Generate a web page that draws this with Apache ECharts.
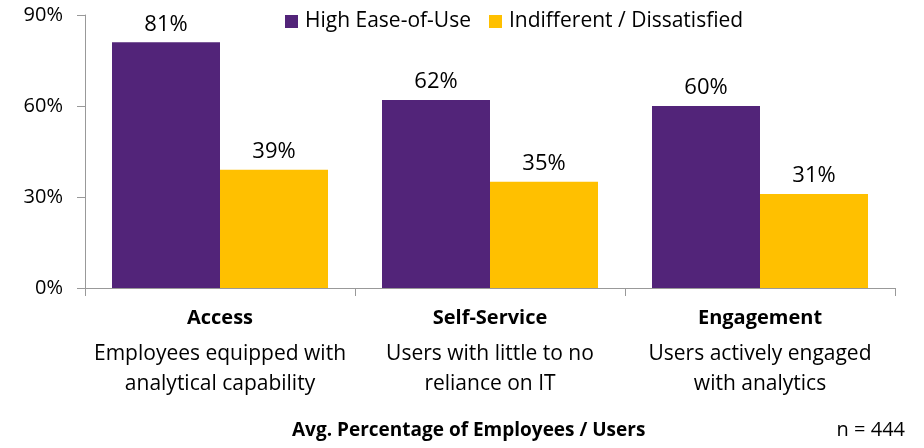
<!DOCTYPE html>
<html><head><meta charset="utf-8">
<script src="https://cdn.jsdelivr.net/npm/echarts@6/dist/echarts.min.js"></script>
<style>html,body{margin:0;padding:0;background:#fff}#c{width:924px;height:448px}</style>
</head><body><div id="c"></div>
<script>
var categories = ['Access', 'Self-Service', 'Engagement'];
var descriptions = ['Employees equipped with\nanalytical capability', 'Users with little to no\nreliance on IT', 'Users actively engaged\nwith analytics'];
var highEase = [81, 62, 60];
var indifferent = [39, 35, 31];
var seriesNames = ['High Ease-of-Use', 'Indifferent / Dissatisfied'];
var yTicks = [0, 30, 60, 90];

var font = 'Open Sans';
var chart = echarts.init(document.getElementById('c'));
chart.setOption({
  animation: false,
  textStyle: { fontFamily: font },
  legend: {
    top: 6, left: 280, itemWidth: 13, itemHeight: 13, itemGap: 18,
    textStyle: { fontSize: 21, color: '#000', fontFamily: font, padding: [0, 0, 0, 2] },
    icon: 'rect',
    data: seriesNames
  },
  grid: { left: 85, right: 29, top: 15, bottom: 160, containLabel: false },
  xAxis: {
    type: 'category',
    data: categories,
    axisLine: { lineStyle: { color: '#999' } },
    axisTick: { show: true, length: 8, lineStyle: { color: '#999' } },
    axisLabel: {
      margin: 9, interval: 0,
      formatter: function (v, i) { return '{b|' + v + '}\n{n|' + descriptions[i].split('\n').join('}\n{n|') + '}'; },
      rich: {
        b: { fontFamily: font, fontWeight: 'bold', fontSize: 20, color: '#000', lineHeight: 42 },
        n: { fontFamily: font, fontSize: 21, color: '#000', lineHeight: 30 }
      }
    }
  },
  yAxis: {
    type: 'value', min: 0, max: 90, interval: 30,
    splitLine: { show: false },
    axisLine: { show: true, lineStyle: { color: '#999' } },
    axisTick: { show: true, length: 8, lineStyle: { color: '#999' } },
    axisLabel: { margin: 22, fontSize: 20, color: '#000', fontFamily: font, formatter: function (v) { return yTicks.indexOf(v) >= 0 ? v + '%' : ''; } }
  },
  series: [
    { name: seriesNames[0], type: 'bar', data: highEase, barGap: '0%', barCategoryGap: '20%',
      itemStyle: { color: '#522479' },
      label: { show: true, position: 'top', distance: 7, fontSize: 22, color: '#000', fontFamily: font, formatter: '{c}%' } },
    { name: seriesNames[1], type: 'bar', data: indifferent, barGap: '0%', barCategoryGap: '20%',
      itemStyle: { color: '#FFC000' },
      label: { show: true, position: 'top', distance: 7, fontSize: 22, color: '#000', fontFamily: font, formatter: '{c}%' } }
  ],
  graphic: [
    { type: 'text', left: 292, top: 421, style: { text: 'Avg. Percentage of Employees / Users', font: 'bold 19px "' + font + '"', fill: '#000' } },
    { type: 'text', right: 19, top: 420, style: { text: 'n = 444', font: '20px "' + font + '"', fill: '#000' } }
  ]
});
</script></body></html>
